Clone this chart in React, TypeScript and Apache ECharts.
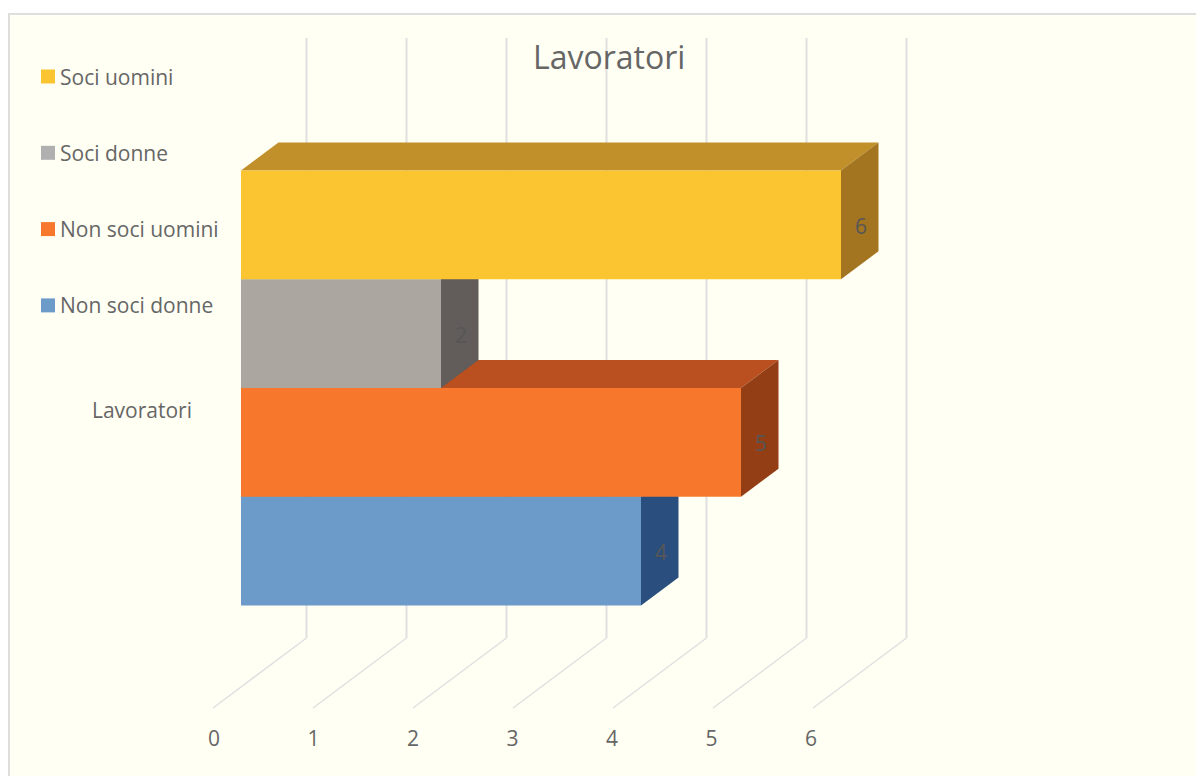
import React, { useEffect, useRef } from "react";
import * as echarts from "echarts";

const chartTitle = "Lavoratori";
const categories = ["Lavoratori"];
const xTicks = [0, 1, 2, 3, 4, 5, 6];
const seriesNames = ["Non soci donne", "Non soci uomini", "Soci donne", "Soci uomini"];
const nonSociDonne = [4];
const nonSociUomini = [5];
const sociDonne = [2];
const sociUomini = [6];
const legendOrder = ["Soci uomini", "Soci donne", "Non soci uomini", "Non soci donne"];

const FONT = "'Open Sans', 'Noto Sans', sans-serif";
const TEXT = "#666666";
const DX = 37.5;
const DY = 28;

const bar = (
  name: string,
  values: number[],
  slot: number,
  front: string,
  top: string,
  side: string,
  legendColor: string,
  z: number
) => ({
  type: "custom",
  name,
  xAxisIndex: 0,
  yAxisIndex: 0,
  z,
  itemStyle: { color: legendColor },
  data: values.map((v, i) => [v, i]),
  encode: { x: 0, y: 1 },
  renderItem: (_: any, api: any) => {
    const value = api.value(0);
    const [x1, yc] = api.coord([value, api.value(1)]);
    const [x0] = api.coord([0, api.value(1)]);
    const band = api.size([0, 1])[1];
    const h = band / 4;
    const y0 = yc - band / 2 + slot * h;
    const y1 = y0 + h;
    return {
      type: "group",
      children: [
        {
          type: "polygon",
          shape: { points: [[x0, y0], [x0 + DX, y0 - DY], [x1 + DX, y0 - DY], [x1, y0]] },
          style: { fill: top },
        },
        {
          type: "polygon",
          shape: { points: [[x1, y0], [x1 + DX, y0 - DY], [x1 + DX, y1 - DY], [x1, y1]] },
          style: { fill: side },
        },
        {
          type: "rect",
          shape: { x: x0, y: y0, width: x1 - x0, height: h },
          style: { fill: front },
        },
        {
          type: "text",
          x: x1 + 20,
          y: (y0 + y1) / 2 + 1,
          style: {
            text: String(value),
            fill: "#565656",
            font: `21px ${FONT}`,
            align: "center",
            verticalAlign: "middle",
          },
        },
      ],
    };
  },
});

export default function App() {
  const ref = useRef<HTMLDivElement>(null);
  useEffect(() => {
    const chart = echarts.init(ref.current!, undefined, { renderer: "svg" });
    const axisText = { color: TEXT, fontSize: 21, fontFamily: FONT };
    chart.setOption({
      animation: false,
      backgroundColor: "#ffffff",
      title: {
        text: chartTitle,
        left: 528,
        top: 35,
        textStyle: { color: TEXT, fontSize: 32, fontWeight: "normal", fontFamily: FONT },
      },
      legend: {
        orient: "vertical",
        left: 36,
        top: 61,
        icon: "rect",
        itemWidth: 14,
        itemHeight: 14,
        itemGap: 55.3,
        data: legendOrder,
        selectedMode: false,
        textStyle: { ...axisText, padding: [0, 0, 0, 0] },
      },
      graphic: [
        {
          type: "rect",
          z: -10,
          silent: true,
          shape: { x: 9, y: 14, width: 1300, height: 900 },
          style: { fill: "#FFFFF3", stroke: "#DEDEDE", lineWidth: 2 },
        },
      ],
      grid: [
        { left: 241, top: 170.5, width: 600, height: 435 },
        { left: 214, top: 100, width: 597, height: 620 },
      ],
      xAxis: [
        { type: "value", gridIndex: 0, min: 0, max: 6, interval: 1, show: false },
        {
          type: "value",
          gridIndex: 1,
          min: 0,
          max: 6,
          interval: 1,
          axisLine: { show: false },
          axisTick: { show: false },
          splitLine: { show: false },
          axisLabel: { ...axisText, margin: 7 },
        },
      ],
      yAxis: [
        { type: "category", gridIndex: 0, data: categories, show: false },
        {
          type: "category",
          gridIndex: 1,
          data: categories,
          axisLine: { show: false },
          axisTick: { show: false },
          splitLine: { show: false },
          axisLabel: { ...axisText, margin: 22 },
        },
      ],
      series: [
        {
          type: "custom",
          name: "griglia",
          xAxisIndex: 0,
          yAxisIndex: 0,
          z: 1,
          silent: true,
          data: xTicks.map((t) => [t, 0]),
          encode: { x: 0, y: 1 },
          renderItem: (_: any, api: any) => {
            const [x] = api.coord([api.value(0), 0]);
            const line = { stroke: "#E0E0E0", lineWidth: 2, fill: "none" };
            return {
              type: "group",
              children: [
                { type: "line", shape: { x1: x + 65.5, y1: 38, x2: x + 65.5, y2: 638 }, style: line },
                {
                  type: "line",
                  shape: { x1: x + 65.5, y1: 638, x2: x - 28, y2: 708 },
                  style: { ...line, lineWidth: 1.5 },
                },
              ],
            };
          },
        },
        bar(seriesNames[0], nonSociDonne, 3, "#6C9BCA", "#4A74A3", "#2A4F7E", "#6C9BCA", 2),
        bar(seriesNames[1], nonSociUomini, 2, "#F7782C", "#BA4F1F", "#943E16", "#F7782C", 3),
        bar(seriesNames[2], sociDonne, 1, "#ABA6A0", "#857F7B", "#625C5A", "#B0B0B0", 4),
        bar(seriesNames[3], sociUomini, 0, "#FBC531", "#C1902A", "#A37521", "#FBC531", 5),
      ],
    });
    return () => chart.dispose();
  }, []);
  return <div ref={ref} style={{ position: "fixed", left: 0, top: 0, width: 1196, height: 776 }} />;
}
